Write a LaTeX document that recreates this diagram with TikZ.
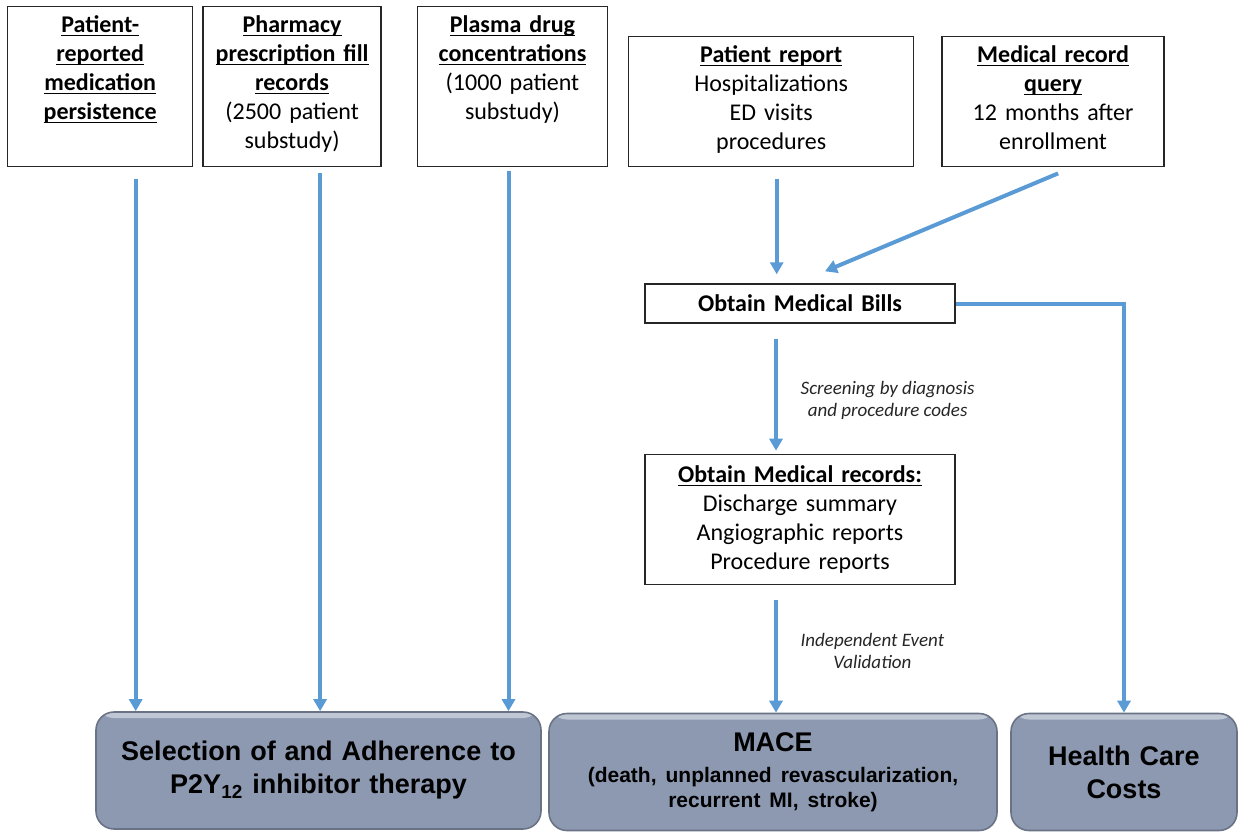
\documentclass[tikz,border=0pt]{standalone}
\usepackage{fontspec}
\setmainfont{Carlito}
\newfontfamily\arialfont{Liberation Sans}
\usetikzlibrary{positioning, arrows.meta}
\definecolor{flowblue}{RGB}{91,155,213}
\definecolor{outgray}{RGB}{141,153,177}
\newsavebox{\headbox}
\newcommand{\ulhead}[1]{\sbox{\headbox}{\textbf{#1}}\usebox{\headbox}\llap{\rule[-1.8pt]{\wd\headbox}{0.7pt}}}
\tikzset{
    srcbox/.style={draw=black!85, line width=0.7pt, align=center, text width=#1, inner xsep=2pt, inner ysep=4pt, font=\fontsize{12}{14.5}\selectfont},
    outbox/.style={draw=outgray!75!black, line width=0.8pt, fill=outgray, rounded corners=9pt, align=center, text width=#1, inner xsep=4pt, minimum height=58.5pt, font=\arialfont\bfseries\fontsize{13.5}{16.5}\selectfont,
        path picture={\fill[outgray!55!white] ([yshift=1pt]path picture bounding box.north west) rectangle ([yshift=-3pt]path picture bounding box.north east);}},
    flow/.style={draw=flowblue, line width=2pt, ->},
    flowlabel/.style={font=\itshape\fontsize{9.5}{11}\selectfont, align=center, text=black!85}
}

\begin{document}
\begin{tikzpicture}[x=0.5pt, y=-0.5pt, >={Triangle[length=6pt, width=6.5pt]}]
    \useasboundingbox (0,0) rectangle (1238,831);
    \node[srcbox=88.5pt, text height=9pt, text depth=63pt, anchor=north west] (00) at (7,6) {\ulhead{Patient-}\\\ulhead{reported}\\\ulhead{medication}\\\ulhead{persistence}};
    \node[srcbox=85pt, text height=9pt, text depth=63pt, right=4.5pt of 00] (01) {\ulhead{Pharmacy}\\\ulhead{prescription fill}\\\ulhead{records}\\(2500 patient\\substudy)};
    \node[srcbox=91pt, text height=9pt, text depth=63pt, right=17.5pt of 01] (02) {\ulhead{Plasma drug}\\\ulhead{concentrations}\\(1000 patient\\substudy)};
    \node[srcbox=138.5pt, text height=9pt, text depth=48pt, anchor=north west] (03) at (628,36) {\ulhead{Patient report}\\Hospitalizations\\ED visits\\procedures};
    \node[srcbox=107pt, text height=9pt, text depth=48pt, right=13.5pt of 03] (04) {\ulhead{Medical record}\\\ulhead{query}\\12 months after\\enrollment};
    \node[srcbox=151pt, minimum height=19.5pt] (13) at (800,303.5) {\textbf{Obtain Medical Bills}};
    \node[srcbox=151pt, minimum height=65pt, below=65pt of 13] (23) {\ulhead{Obtain Medical records:}\\Discharge summary\\Angiographic reports\\Procedure reports};
    \node[outbox=214.5pt] (30) at (318.5,770.5) {Selection of and Adherence to\\P2Y\textsubscript{12} inhibitor therapy};
    \node[outbox=216pt] (31) at (773,772) {MACE\par\vspace{3pt}{\fontsize{10.5}{12.5}\selectfont (death, unplanned revascularization,\\recurrent MI, stroke)\par}};
    \node[outbox=105pt] (32) at (1124,772) {Health Care\\Costs};
    \draw[flow] ([xshift=17.75pt, yshift=-6pt]00.south) -- ([xshift=17.75pt]00.south |- 30.north);
    \draw[flow] ([xshift=14pt, yshift=-3pt]01.south) -- ([xshift=14pt]01.south |- 30.north);
    \draw[flow] ([xshift=-2pt, yshift=-2pt]02.south) -- ([xshift=-2pt]02.south |- 30.north);
    \draw[flow] ([xshift=2.75pt, yshift=-6pt]03.south) -- ([xshift=2.75pt, yshift=4.5pt]03.south |- 13.north);
    \draw[flow] ([xshift=2.5pt, yshift=-3pt]04.south) -- ([xshift=12.5pt, yshift=6pt]13.north);
    \draw[flow] ([xshift=-12pt, yshift=-7.5pt]13.south) -- ([xshift=-12pt, yshift=1.5pt]23.north) node[flowlabel, midway, right=8pt, yshift=-3pt] {Screening by diagnosis\\and procedure codes};
    \draw[flow] ([xshift=-12pt, yshift=-7.5pt]23.south) -- ([xshift=-12pt]23.south |- 31.north) node[flowlabel, pos=0.45, right=8pt] {Independent Event\\Validation};
    \draw[flow] (13.east) -| (32.north);
\end{tikzpicture}
\end{document}
